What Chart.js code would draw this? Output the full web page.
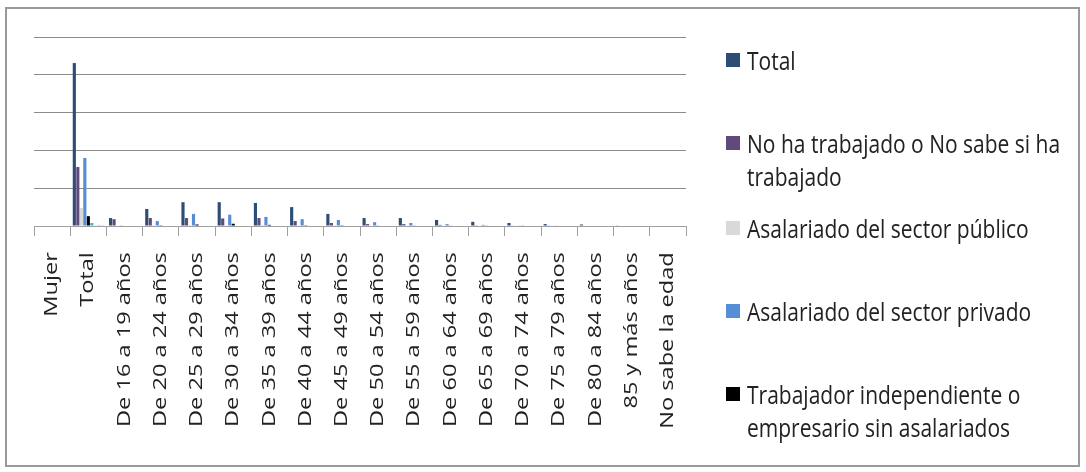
<!DOCTYPE html>
<html>
<head>
<meta charset="utf-8">
<script src="https://cdn.jsdelivr.net/npm/chart.js@4.4.1/dist/chart.umd.min.js"></script>
<style>
  html, body { margin: 0; padding: 0; background: #fff; }
  #wrap { position: relative; width: 1086px; height: 472px; overflow: hidden; }
  #frame { position: absolute; left: 5px; top: 7px; width: 1075px; height: 460px;
           border: 2px solid #9a9a9a; box-sizing: border-box; }
  #chart { position: absolute; left: 0; top: 0; }
  #legend { position: absolute; left: 0; top: 0; font-family: "Open Sans", sans-serif;
            font-size: 21px; color: #222; }
  .item { position: absolute; left: 726px; width: 355px; display: flex; }
  .box { width: 14px; height: 14px; margin-top: 9px; margin-right: 7px; flex: none; }
  .txt { width: 335px; line-height: 26px; transform: scaleY(1.25); transform-origin: 0 0; }
</style>
</head>
<body>
<div id="wrap">
  <div id="frame"></div>
  <canvas id="chart" width="1086" height="472"></canvas>
  <div id="legend"></div>
</div>
<script>
// categories on the x axis
const categories = ['Mujer', 'Total', 'De 16 a 19 años', 'De 20 a 24 años', 'De 25 a 29 años',
  'De 30 a 34 años', 'De 35 a 39 años', 'De 40 a 44 años', 'De 45 a 49 años', 'De 50 a 54 años',
  'De 55 a 59 años', 'De 60 a 64 años', 'De 65 a 69 años', 'De 70 a 74 años', 'De 75 a 79 años',
  'De 80 a 84 años', '85 y más años', 'No sabe la edad'];

// series shown in the legend
const seriesNames = ['Total', 'No ha trabajado o No sabe si ha trabajado',
  'Asalariado del sector público', 'Asalariado del sector privado',
  'Trabajador independiente o empresario sin asalariados'];

const total    = [0, 431, 21, 45, 63, 63, 61, 50, 32, 21, 21, 16, 11, 8, 5, 4, 1, 0];
const noTrab   = [0, 156, 18, 21, 21, 20, 21, 13, 8, 5, 5, 3, 2, 1, 1, 0, 0, 0];
const publico  = [0, 48, 0, 2, 3, 2, 3, 2, 2, 1, 1, 1, 0, 0, 0, 0, 0, 0];
const privado  = [0, 180, 2, 13, 32, 30, 24, 18, 16, 10, 8, 5, 3, 1, 1, 0, 0, 0];
const indep    = [0, 26, 0, 2, 4, 6, 3, 2, 2, 1, 1, 1, 1, 1, 0, 0, 0, 0];
// further series whose legend entries fall outside the picture
const extra1   = [0, 8, 0, 0, 0, 0, 0, 0, 0, 0, 0, 0, 0, 0, 0, 0, 0, 0];
const extra2   = [0, 2, 0, 0, 0, 0, 0, 0, 0, 0, 0, 0, 0, 0, 0, 0, 0, 0];
const extra3   = [0, 3, 0, 0, 0, 0, 0, 0, 0, 0, 0, 0, 0, 0, 0, 0, 0, 0];
const extra4   = [0, 3, 0, 0, 0, 0, 0, 0, 0, 0, 0, 0, 0, 0, 0, 0, 0, 0];

// y axis (values not printed in the original)
const yMax = 500, yStep = 100;

const colors = ['#2c4d75', '#604a7b', '#d9d9d9', '#558ed5', '#000000',
                '#2fc4c4', '#dbe5f1', '#ccc1da', '#c6d9f1'];
const seriesData = [total, noTrab, publico, privado, indep, extra1, extra2, extra3, extra4];

// the original picture is stretched vertically, so the rotated labels are too
const labelStretch = 1.31;

const datasets = seriesData.map((d, i) => ({
  label: seriesNames[i] || '',
  data: d,
  backgroundColor: colors[i],
  borderWidth: 0,
  categoryPercentage: 0.87,
  barPercentage: 0.9
}));

const chart = new Chart(document.getElementById('chart'), {
  type: 'bar',
  data: { labels: categories, datasets: datasets },
  options: {
    responsive: false,
    animation: false,
    layout: { padding: { left: 34, right: 400, top: 37, bottom: 0 } },
    plugins: { legend: { display: false }, tooltip: { enabled: false } },
    scales: {
      x: {
        grid: { drawOnChartArea: false, color: '#a0a0a0', tickLength: 10, offset: true },
        border: { color: '#a0a0a0' },
        ticks: { maxRotation: 90, minRotation: 90, autoSkip: false, color: '#222',
                 font: { family: 'Open Sans', size: 18 }, padding: 10 },
        afterFit: s => { s.height = 246; }
      },
      y: {
        min: 0, max: yMax,
        ticks: { display: false, stepSize: yStep },
        grid: { color: '#8c8c8c', drawTicks: false },
        border: { display: false },
        afterFit: s => { s.width = 0; }
      }
    }
  }
});

// stretch the x labels along their length, measured from the axis line
const xs = chart.scales.x;
const drawLabels = xs.drawLabels.bind(xs);
xs.drawLabels = function (area) {
  const c = chart.ctx, y0 = chart.chartArea.bottom;
  c.save();
  c.translate(0, y0);
  c.scale(1, labelStretch);
  c.translate(0, -y0);
  drawLabels(area);
  c.restore();
};
chart.draw();

// html legend (wraps long names like the original)
const legendTops = [44, 127, 212, 295, 378];
const legend = document.getElementById('legend');
seriesNames.forEach((name, i) => {
  const it = document.createElement('div');
  it.className = 'item';
  it.style.top = legendTops[i] + 'px';
  it.innerHTML = '<span class="box" style="background:' + colors[i] + '"></span><span class="txt"></span>';
  it.querySelector('.txt').textContent = name;
  legend.appendChild(it);
});
</script>
</body>
</html>
